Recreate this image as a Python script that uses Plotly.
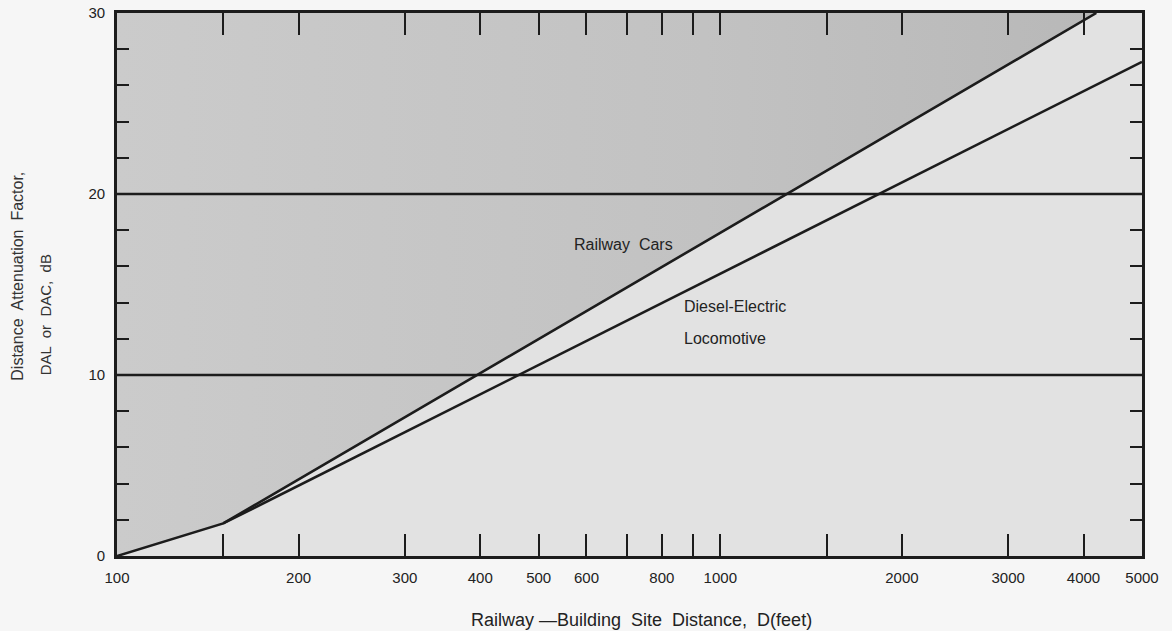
import plotly.graph_objects as go
import math

# ---- data ----
railway_x = [100, 150, 4200]
railway_y = [0, 1.8, 30]
diesel_x = [150, 5000]
diesel_y = [1.8, 27.3]
ref_levels = [10, 20]
x_label_vals = [100, 200, 300, 400, 500, 600, 800, 1000, 2000, 3000, 4000, 5000]
x_minor_vals = [150, 700, 900, 1500]
x_range = [100, 5000]
y_range = [0, 30]

INK = "#1c1c1c"
FONT = "Liberation Sans, Arial, sans-serif"

fig = go.Figure()

# shaded region above the railway-cars curve
fig.add_trace(go.Scatter(
    x=railway_x + [railway_x[0]],
    y=railway_y + [y_range[1]],
    mode="none", fill="toself",
    fillgradient=dict(type="horizontal",
                      colorscale=[[0, "#cbcbcb"], [0.6, "#c2c2c2"], [1, "#b8b8b8"]]),
    hoverinfo="skip", showlegend=False))

fig.add_trace(go.Scatter(x=railway_x, y=railway_y, mode="lines",
                         line=dict(color=INK, width=2.6), name="Railway Cars",
                         showlegend=False))
fig.add_trace(go.Scatter(x=diesel_x, y=diesel_y, mode="lines",
                         line=dict(color=INK, width=2.6), name="Diesel-Electric Locomotive",
                         showlegend=False))

for lv in ref_levels:
    fig.add_shape(type="line", xref="x domain", yref="y", x0=0, x1=1, y0=lv, y1=lv,
                  line=dict(color=INK, width=2.4), layer="above")

fig.add_annotation(x=math.log10(690), y=17.2, xref="x", yref="y", text="Railway  Cars",
                   showarrow=False, font=dict(family=FONT, size=16, color="#222"))
fig.add_annotation(x=math.log10(865), y=13.8, xref="x", yref="y", text="Diesel-Electric",
                   showarrow=False, xanchor="left", font=dict(family=FONT, size=16, color="#222"))
fig.add_annotation(x=math.log10(865), y=12.0, xref="x", yref="y", text="Locomotive",
                   showarrow=False, xanchor="left", font=dict(family=FONT, size=16, color="#222"))

# y-axis title (two lines)
fig.add_annotation(x=-0.0966, y=0.32, xref="paper", yref="paper", textangle=-90,
                   text="Distance  Attenuation  Factor,", showarrow=False,
                   xanchor="center", yanchor="bottom",
                   font=dict(family=FONT, size=16, color="#333"))
fig.add_annotation(x=-0.0703, y=0.33, xref="paper", yref="paper", textangle=-90,
                   text="DAL  or  DAC,  dB", showarrow=False,
                   xanchor="center", yanchor="bottom",
                   font=dict(family=FONT, size=15, color="#333"))

# x-axis title
fig.add_annotation(x=0.512, y=-64 / 543, xref="paper", yref="paper",
                   text="Railway —Building  Site  Distance,  D(feet)", showarrow=False,
                   xanchor="center", yanchor="middle",
                   font=dict(family=FONT, size=18, color="#222"))

fig.update_xaxes(type="log", range=[math.log10(x_range[0]), math.log10(x_range[1])],
                 tickvals=x_label_vals, ticktext=[str(v) for v in x_label_vals],
                 ticks="inside", ticklen=22, tickwidth=2, tickcolor=INK,
                 minor=dict(tickvals=x_minor_vals, ticks="inside", ticklen=22,
                            tickwidth=2, tickcolor=INK, showgrid=False),
                 showline=True, linecolor=INK, linewidth=2.6, mirror="ticks",
                 showgrid=False, zeroline=False, layer="above traces",
                 ticklabelstandoff=6, automargin=False,
                 tickfont=dict(family=FONT, size=15, color="#222"))
fig.update_yaxes(range=y_range, dtick=10, ticks="inside", ticklen=12, tickwidth=2,
                 tickcolor=INK,
                 minor=dict(dtick=2, ticks="inside", ticklen=12, tickwidth=2,
                            tickcolor=INK, showgrid=False),
                 showline=True, linecolor=INK, linewidth=2.6, mirror="ticks",
                 showgrid=False, zeroline=False, layer="above traces",
                 ticklabelstandoff=6, automargin=False,
                 tickfont=dict(family=FONT, size=15, color="#222"))

fig.update_layout(width=1172, height=631,
                  margin=dict(l=117, r=30, t=13, b=75),
                  paper_bgcolor="#f6f6f6", plot_bgcolor="#e2e2e2",
                  showlegend=False)

fig.write_html("out.html", config={"displayModeBar": False},
               post_script="document.body.style.margin='0';document.body.style.padding='0';document.body.style.overflow='hidden';")
